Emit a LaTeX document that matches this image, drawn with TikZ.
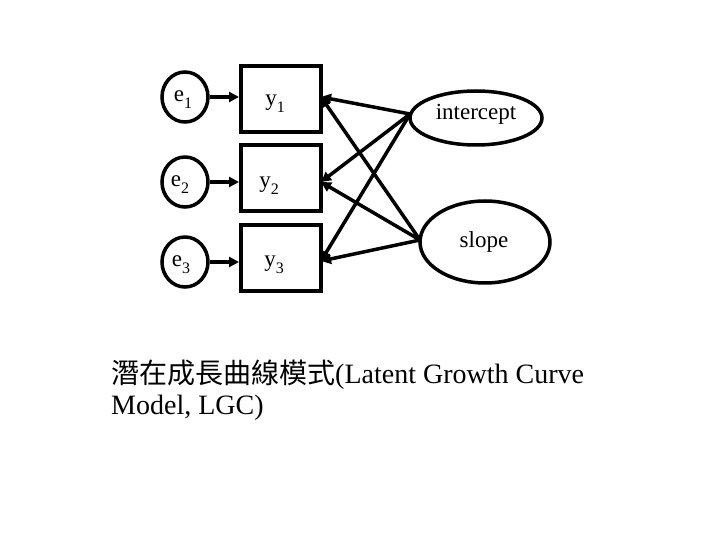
\documentclass[tikz,border=0pt]{standalone}
\usepackage{fontspec}
\setmainfont{Liberation Serif}
\newfontfamily\cjk{Noto Sans CJK TC}
\usetikzlibrary{shapes.geometric,arrows.meta}
\newcommand\mysub[1]{\raisebox{-0.3em}{\fontsize{16}{16}\selectfont #1}}
\begin{document}
\begin{tikzpicture}[x=1pt,y=-1pt,
  errc/.style={draw,line width=3.5pt,ellipse,minimum width=46pt,minimum height=50pt,inner sep=0pt},
  obsbox/.style={draw,line width=4pt,rectangle,minimum width=80pt,minimum height=66pt,inner sep=0pt},
  latent/.style={draw,line width=3.5pt,ellipse,inner sep=0pt},
  lbl/.style={font=\fontsize{23}{23}\selectfont,inner sep=0pt},
  arr/.style={-{Triangle[length=10pt,width=10pt]},line width=3.5pt}]
\path[use as bounding box,fill=white] (0,0) rectangle (720,540);
\node[errc] (e1) at (185,97) {};
\node[errc] (e2) at (185,182) {};
\node[errc] (e3) at (185,262) {};
\node[lbl] at (183,100) {e\mysub{1}};
\node[lbl] at (180,185) {e\mysub{2}};
\node[lbl] at (181,265) {e\mysub{3}};
\node[obsbox] (y1) at (281,99) {};
\node[obsbox] (y2) at (281,178) {};
\node[obsbox] (y3) at (281,258) {};
\node[lbl] at (275,104) {y\mysub{1}};
\node[lbl] at (269,186) {y\mysub{2}};
\node[lbl] at (274,265) {y\mysub{3}};
\node[latent,minimum width=132pt,minimum height=54pt] (int) at (476,118) {};
\node[lbl] at (476,114) {intercept};
\node[latent,minimum width=130pt,minimum height=82pt] (slp) at (485,242) {};
\node[lbl] at (484,242) {slope};
\coordinate (is) at (410,114);
\coordinate (ss) at (420,240);
\coordinate (t1) at (321,97);
\coordinate (t2) at (321,182);
\coordinate (t3) at (321,261);
\draw[arr] (e1.east) -- (y1.west |- e1.east);
\draw[arr] (e2.east) -- (y2.west |- e2.east);
\draw[arr] (e3.east) -- (y3.west |- e3.east);
\draw[arr] (is) -- (t1);
\draw[arr] (is) -- (t2);
\draw[arr] (is) -- (t3);
\draw[arr] (ss) -- (t1);
\draw[arr] (ss) -- (t2);
\draw[arr] (ss) -- (t3);
\node[anchor=north west,align=left,inner sep=0pt,font=\fontsize{28}{31}\selectfont] (cap) at (111,360)
  {{\cjk 潛在成長曲線模式}(Latent Growth Curve\\Model, LGC)};
\end{tikzpicture}
\end{document}
